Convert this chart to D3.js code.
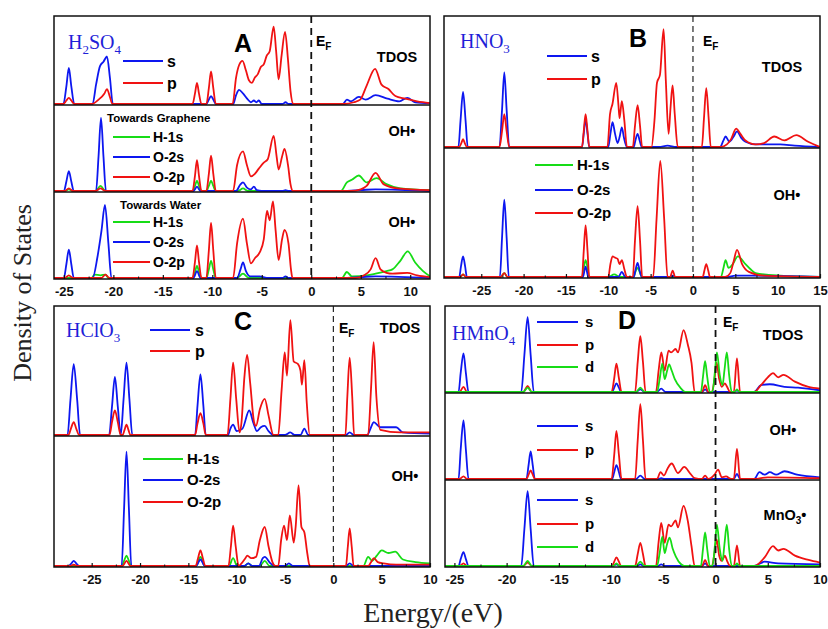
<!DOCTYPE html>
<html>
<head>
<meta charset="utf-8">
<script src="https://cdn.jsdelivr.net/npm/d3@7"></script>
<style>
body { margin: 0; background: #fff; }
</style>
</head>
<body>
<div id="chart"></div>
<script>
// ---- data: [energy eV, relative DOS in sub-panel] ----

// Panel A, H2SO4
var ticksA = [-25, -20, -15, -10, -5, 0, 5, 10];
var a1S = [[-26,0],[-25.05,0],[-24.75,.2],[-24.5,.41],[-24.25,.2],[-23.95,0],
  [-22.1,0],[-21.75,.22],[-21.35,.43],[-21.0,.48],[-20.65,.54],[-20.35,.3],[-20.05,0],
  [-10.6,0],[-10.35,.05],[-10.13,.09],[-9.9,.05],[-9.65,0],
  [-7.9,0],[-7.6,.1],[-7.3,.16],[-6.9,.12],[-6.4,.05],[-6.1,.02],[-5.8,.04],[-5.55,.02],[-5.3,.04],[-5.0,0],
  [-2.9,0],[-2.6,.02],[-2.3,0],
  [3.2,0],[3.6,.05],[4.0,.03],[4.8,.08],[5.5,.05],[6.5,.1],[7.7,.06],[8.9,.03],[9.7,.07],[10.5,.02],[12,.01]];
var a1P = [[-26,0],[-25.05,0],[-24.75,.04],[-24.5,.07],[-24.25,.04],[-23.95,0],
  [-22.2,0],[-21.5,.05],[-20.9,.12],[-20.65,.17],[-20.35,.08],[-20.1,0],
  [-12.0,0],[-11.75,.12],[-11.55,.24],[-11.35,.12],[-11.1,0],
  [-10.6,0],[-10.35,.18],[-10.13,.37],[-9.9,.18],[-9.65,0],
  [-7.95,0],[-7.6,.3],[-7.3,.44],[-6.95,.49],[-6.6,.38],[-6.3,.27],[-6.0,.24],[-5.7,.3],[-5.4,.34],[-5.1,.42],
  [-4.8,.45],[-4.5,.55],[-4.2,.6],[-3.8,.88],[-3.55,.6],[-3.3,.28],[-3.0,.55],[-2.65,.82],[-2.35,.5],[-2.1,.15],[-1.8,0],
  [3.3,0],[4.3,.02],[4.95,.05],[5.6,.21],[6.45,.4],[7.1,.22],[7.8,.17],[8.5,.09],[9.5,.06],[10.7,.03],[12,.01]];
var a2H = [[-26,0],[-24.9,0],[-24.5,.02],[-24.1,0],
  [-21.8,0],[-21.3,.06],[-20.8,0],
  [-12.0,0],[-11.75,.06],[-11.55,.12],[-11.35,.06],[-11.1,0],
  [-10.6,0],[-10.35,.06],[-10.13,.12],[-9.9,.06],[-9.65,0],
  [-7.4,0],[-6.9,.03],[-6.4,0],
  [3.0,0],[3.6,.1],[4.1,.13],[4.8,.18],[5.6,.1],[6.6,.15],[7.6,.08],[9,.03],[12,.01]];
var a2Os = [[-26,0],[-25.0,0],[-24.75,.11],[-24.5,.23],[-24.25,.11],[-24.0,0],
  [-21.75,0],[-21.5,.4],[-21.25,.85],[-21.0,.4],[-20.75,0],
  [-11.9,0],[-11.55,.05],[-11.2,0],
  [-7.6,0],[-7.2,.07],[-6.9,.1],[-6.5,.04],[-6.1,.02],[-5.8,.05],[-5.5,.01],[-5.0,0],
  [-2.9,0],[-2.6,.01],[-2.3,0],
  [3.0,0],[5,.01],[6.5,.02],[12,0]];
var a2Op = [[-26,0],[-24.9,0],[-24.5,.03],[-24.1,0],
  [-21.8,0],[-21.3,.03],[-20.8,0],
  [-12.0,0],[-11.75,.18],[-11.55,.36],[-11.35,.18],[-11.1,0],
  [-10.6,0],[-10.35,.2],[-10.13,.41],[-9.9,.2],[-9.65,0],
  [-7.9,0],[-7.5,.3],[-6.9,.46],[-6.5,.3],[-6.1,.17],[-5.7,.2],[-5.3,.26],[-4.8,.33],[-4.4,.37],[-3.8,.64],
  [-3.5,.4],[-3.3,.25],[-2.95,.4],[-2.7,.49],[-2.35,.3],[-2.1,.08],[-1.85,0],
  [4.0,0],[5.0,.02],[5.6,.06],[6.5,.21],[7.3,.08],[8.7,.03],[12,.01]];
var a3H = [[-26,0],[-22.2,0],[-21.9,.04],[-21.3,.03],[-20.8,.04],[-20.5,0],
  [-12.0,0],[-11.75,.07],[-11.55,.14],[-11.35,.07],[-11.1,0],
  [-10.6,0],[-10.35,.1],[-10.13,.2],[-9.9,.1],[-9.65,0],
  [-7.5,0],[-6.9,.05],[-6.3,0],
  [3.1,0],[3.6,.07],[4.1,.02],[5.6,.03],[6.5,.05],[7.6,.08],[8.2,.1],[9.0,.2],[9.75,.31],[10.5,.18],[11.3,.08],[12,.02]];
var a3Os = [[-26,0],[-25.0,0],[-24.75,.16],[-24.5,.33],[-24.25,.16],[-24.0,0],
  [-22.1,0],[-21.6,.25],[-21.2,.55],[-20.85,.85],[-20.5,.4],[-20.2,0],
  [-11.9,0],[-11.55,.08],[-11.2,0],
  [-7.5,0],[-7.15,.1],[-6.9,.18],[-6.6,.08],[-6.2,.02],[-5.2,.02],[-4.5,0],
  [-2.9,0],[-2.6,.02],[-2.3,0],
  [3.0,0],[5,.01],[6.5,.02],[12,0]];
var a3Op = [[-26,0],[-24.9,0],[-24.5,.03],[-24.1,0],
  [-21.2,0],[-20.8,.04],[-20.4,0],
  [-12.0,0],[-11.75,.19],[-11.55,.38],[-11.35,.19],[-11.1,0],
  [-10.6,0],[-10.35,.32],[-10.13,.64],[-9.9,.32],[-9.65,0],
  [-7.9,0],[-7.5,.4],[-6.9,.69],[-6.5,.4],[-6.1,.17],[-5.7,.23],[-5.2,.3],[-4.8,.45],[-4.47,.78],[-4.2,.67],
  [-3.87,.89],[-3.6,.55],[-3.3,.21],[-2.95,.45],[-2.7,.56],[-2.3,.4],[-2.05,.1],[-1.9,0],
  [4.5,0],[5.3,.03],[6.0,.1],[6.5,.23],[7.0,.1],[7.6,.06],[8.2,.05],[9.7,.06],[10.7,.03],[12,.01]];

// Panel B, HNO3
var ticksB = [-25, -20, -15, -10, -5, 0, 5, 10, 15];
var b1S = [[-29.4,0],[-27.7,0],[-27.45,.2],[-27.15,.42],[-26.85,.2],[-26.6,0],
  [-22.85,0],[-22.55,.28],[-22.28,.57],[-22.0,.28],[-21.7,0],
  [-13.1,0],[-12.9,.1],[-12.68,.21],[-12.45,.1],[-12.25,0],
  [-10.0,0],[-9.75,.1],[-9.5,.19],[-9.2,.1],[-8.9,.03],[-8.65,.08],[-8.4,.15],[-8.15,.07],[-7.8,0],
  [-7.0,0],[-6.8,.05],[-6.54,.1],[-6.3,.05],[-6.05,0],
  [-4.0,0],[-3.0,.01],[-2.0,0],
  [3.2,0],[3.6,.05],[3.85,.08],[4.3,.04],[4.8,.08],[5.2,.12],[5.7,.07],[6.2,.04],[7.4,.02],[10.3,.02],[12,.01],[15,0]];
var b1P = [[-29.4,0],[-27.6,0],[-27.35,.03],[-27.15,.06],[-26.95,.03],[-26.7,0],
  [-22.85,0],[-22.55,.12],[-22.28,.25],[-22.0,.12],[-21.7,0],
  [-13.1,0],[-12.9,.12],[-12.68,.25],[-12.45,.12],[-12.25,0],
  [-10.1,0],[-9.8,.25],[-9.5,.33],[-9.06,.49],[-8.8,.32],[-8.67,.22],[-8.4,.35],[-8.1,.2],[-7.8,0],
  [-7.1,0],[-6.85,.16],[-6.54,.32],[-6.25,.16],[-6.0,0],
  [-4.9,0],[-4.55,.2],[-4.25,.49],[-3.9,.55],[-3.47,.9],[-3.2,.5],[-2.88,.1],[-2.65,.3],[-2.41,.47],[-2.15,.25],[-1.8,0],
  [1.05,0],[1.3,.22],[1.57,.45],[1.85,.22],[2.1,0],
  [3.3,0],[4.0,.02],[4.5,.06],[5.1,.14],[5.6,.1],[6.2,.05],[7.4,.02],[8.4,.03],[9.6,.08],[10.8,.05],[12.2,.09],[13.6,.04],[15,0]];
var b2H = [[-29.4,0],[-27.5,0],[-27.15,.02],[-26.8,0],
  [-22.7,0],[-22.28,.03],[-21.9,0],
  [-13.1,0],[-12.9,.07],[-12.68,.13],[-12.45,.07],[-12.25,0],
  [-10,0],[-9.3,.02],[-8.6,0],
  [-7.0,0],[-6.8,.04],[-6.54,.07],[-6.3,.04],[-6.05,0],
  [3.3,0],[3.6,.07],[3.85,.13],[4.2,.07],[4.7,.1],[5.3,.16],[6.2,.1],[6.8,.06],[7.4,.03],[10.3,.01],[15,0]];
var b2Os = [[-29.4,0],[-27.6,0],[-27.4,.08],[-27.15,.16],[-26.9,.08],[-26.7,0],
  [-22.8,0],[-22.55,.3],[-22.28,.6],[-22.0,.3],[-21.75,0],
  [-13.0,0],[-12.68,.08],[-12.35,0],
  [-8.8,0],[-8.4,.04],[-8.0,0],
  [-7.0,0],[-6.8,.05],[-6.54,.11],[-6.3,.05],[-6.05,0],
  [-2.7,0],[-2.4,.01],[-2.1,0],
  [4,0],[5,.01],[7,.01],[15,0]];
var b2Op = [[-29.4,0],[-27.5,0],[-27.15,.02],[-26.8,0],
  [-22.7,0],[-22.28,.03],[-21.9,0],
  [-13.1,0],[-12.9,.2],[-12.68,.4],[-12.45,.2],[-12.25,0],
  [-10.0,0],[-9.75,.1],[-9.5,.16],[-9.2,.15],[-8.9,.14],[-8.67,.1],[-8.4,.13],[-8.1,.06],[-7.8,0],
  [-7.1,0],[-6.85,.28],[-6.54,.55],[-6.25,.28],[-6.0,0],
  [-4.7,0],[-4.3,.45],[-3.86,.9],[-3.4,.45],[-3.0,0],
  [-2.7,0],[-2.4,.05],[-2.1,0],
  [1.15,0],[1.35,.05],[1.57,.1],[1.8,.05],[2.0,0],
  [3.8,0],[4.4,.03],[4.8,.12],[5.2,.21],[5.8,.1],[6.6,.04],[8.4,.01],[15,0]];

// Panel C, HClO3
var ticksC = [-25, -20, -15, -10, -5, 0, 5, 10];
var c1S = [[-28.9,0],[-27.5,0],[-27.2,.27],[-26.86,.55],[-26.5,.27],[-26.2,0],
  [-23.2,0],[-22.9,.22],[-22.6,.45],[-22.3,.22],[-22.0,0],
  [-21.7,.28],[-21.4,.56],[-21.1,.28],[-20.8,0],
  [-14.3,0],[-14.05,.23],[-13.75,.47],[-13.45,.23],[-13.2,0],
  [-10.9,0],[-10.65,.05],[-10.37,.08],[-10.0,.03],[-9.4,.05],[-8.7,.19],[-8.3,.1],[-7.9,.03],[-7.5,.06],[-7.1,.07],[-6.7,.03],[-6.2,0],
  [-5.0,0],[-4.45,.02],[-4.0,0],[-3.4,0],[-3.0,.05],[-2.6,0],
  [1.3,0],[1.69,.02],[2.1,0],
  [3.5,0],[3.9,.06],[4.17,.1],[4.86,.06],[5.5,.06],[6.5,.06],[7.2,.02],[10,.01]];
var c1P = [[-28.9,0],[-27.4,0],[-27.15,.05],[-26.86,.1],[-26.6,.05],[-26.3,0],
  [-23.15,0],[-22.9,.1],[-22.6,.19],[-22.3,.1],[-22.0,0],
  [-21.8,0],[-21.6,.04],[-21.4,.08],[-21.2,.04],[-21.0,0],
  [-14.3,0],[-14.05,.09],[-13.75,.17],[-13.45,.09],[-13.2,0],
  [-10.95,0],[-10.65,.28],[-10.37,.56],[-10.05,.28],[-9.7,.02],[-9.5,.1],[-9.2,.45],[-8.92,.62],[-8.6,.4],[-8.2,.1],
  [-8.0,.07],[-7.6,.2],[-7.1,.28],[-6.7,.15],[-6.2,0],
  [-5.7,0],[-5.35,.35],[-5.03,.64],[-4.8,.46],[-4.45,.89],[-4.1,.57],[-3.65,.55],[-3.4,.5],[-3.25,.39],[-3.0,.58],[-2.75,.25],[-2.44,0],
  [1.25,0],[1.45,.3],[1.69,.6],[1.95,.3],[2.15,0],
  [3.6,0],[3.9,.36],[4.17,.72],[4.45,.3],[4.86,.04],[6.9,.02],[10,.02]];
var c2H = [[-28.9,0],[-21.9,0],[-21.65,.04],[-21.4,.08],[-21.15,.04],[-20.9,0],
  [-14.2,0],[-13.75,.07],[-13.3,0],
  [-10.8,0],[-10.37,.06],[-9.95,0],
  [-9.2,0],[-8.8,.02],[-8.4,0],
  [-7.6,0],[-7.1,.04],[-6.6,0],
  [3.1,0],[3.6,.07],[4.0,.04],[4.5,.08],[5.0,.12],[5.7,.1],[6.4,.11],[7.2,.05],[8.5,.03],[10,.02]];
var c2Os = [[-28.9,0],[-27.4,0],[-27.1,.02],[-26.86,.04],[-26.6,.02],[-26.3,0],
  [-21.9,0],[-21.65,.44],[-21.4,.88],[-21.15,.44],[-20.9,0],
  [-14.2,0],[-13.75,.05],[-13.3,0],
  [-9.2,0],[-8.8,.02],[-8.4,0],
  [-7.7,0],[-7.3,.06],[-7.1,.07],[-6.5,.02],[-6.1,0],
  [-5.0,0],[-4.6,.02],[-4.2,0],
  [1.3,0],[1.69,.02],[2.1,0],[10,0]];
var c2Op = [[-28.9,0],[-27.2,0],[-26.86,.01],[-26.5,0],
  [-21.8,0],[-21.4,.04],[-21.0,0],
  [-14.25,0],[-14.0,.06],[-13.75,.12],[-13.5,.06],[-13.25,0],
  [-10.85,0],[-10.6,.15],[-10.37,.31],[-10.1,.15],[-9.8,0],
  [-9.5,.02],[-9.1,.06],[-8.9,.08],[-8.5,.06],[-8.0,.07],[-7.6,.2],[-7.1,.3],[-6.7,.15],[-6.3,.03],[-6.0,0],
  [-5.7,0],[-5.4,.2],[-5.1,.31],[-4.8,.2],[-4.5,.39],[-4.1,.18],[-3.9,.3],[-3.6,.62],[-3.3,.3],[-3.0,.26],[-2.7,.1],[-2.44,0],
  [1.3,0],[1.5,.15],[1.69,.29],[1.9,.15],[2.1,0],
  [3.6,0],[3.9,.03],[4.2,.06],[4.6,.03],[5.2,.02],[6.5,.01],[10,.01]];

// Panel D, HMnO4
var ticksD = [-25, -20, -15, -10, -5, 0, 5, 10];
var d1S = [[-25.9,0],[-24.6,0],[-24.4,.22],[-24.13,.45],[-23.9,.22],[-23.65,0],
  [-18.6,0],[-18.3,.43],[-17.99,.87],[-17.7,.43],[-17.4,0],
  [-9.9,0],[-9.7,.05],[-9.49,.1],[-9.25,.05],[-9.05,0],
  [-7.6,0],[-7.2,.03],[-6.8,0],
  [-5.6,0],[-5.2,.04],[-4.8,0],
  [-1.3,0],[-1.0,.03],[-0.7,0],
  [1.8,0],[2.05,.02],[2.3,0],
  [3.7,0],[4.35,.08],[5.2,.09],[6.6,.06],[7.9,.05],[10,.02]];
var d1P = [[-25.9,0],[-24.5,0],[-24.13,.06],[-23.8,0],
  [-18.4,0],[-17.99,.07],[-17.6,0],
  [-9.95,0],[-9.7,.16],[-9.49,.33],[-9.25,.16],[-9.0,0],
  [-7.7,0],[-7.45,.35],[-7.2,.65],[-6.95,.35],[-6.7,0],
  [-5.7,0],[-5.45,.25],[-5.19,.46],[-4.87,.25],[-4.5,.48],[-4.25,.46],[-3.83,.5],[-3.6,.46],[-3.06,.72],[-2.65,.55],[-2.3,.34],[-2.0,0],
  [-1.3,0],[-1.0,.08],[-0.7,0],
  [-0.35,0],[-0.1,.15],[0.1,.34],[0.35,.15],[0.6,.06],[0.9,.1],[1.1,.06],[1.4,0],
  [1.75,0],[2.05,.39],[2.35,0],
  [3.7,0],[4.35,.08],[5.0,.17],[5.5,.22],[6.0,.17],[6.5,.2],[7.6,.12],[8.9,.06],[10,.04]];
var d1D = [[-25.9,0],[-18.4,0],[-17.99,.05],[-17.6,0],
  [-7.6,0],[-7.2,.05],[-6.8,0],
  [-5.6,0],[-5.35,.15],[-5.1,.33],[-4.87,.15],[-4.65,.24],[-4.45,.32],[-4.2,.25],[-3.9,.15],[-3.3,.04],[-2.9,0],
  [-1.4,0],[-1.2,.18],[-1.0,.36],[-0.8,.18],[-0.55,0],
  [-0.3,0],[-0.05,.25],[0.13,.46],[0.4,.2],[0.67,.08],[0.85,.25],[1.08,.46],[1.3,.2],[1.55,0],
  [1.8,0],[2.05,.03],[2.3,0],[10,0]];
var d2S = [[-25.9,0],[-24.6,0],[-24.4,.34],[-24.13,.68],[-23.9,.34],[-23.65,0],
  [-18.1,0],[-17.9,.16],[-17.7,.32],[-17.5,.16],[-17.3,0],
  [-9.9,0],[-9.7,.08],[-9.49,.16],[-9.25,.08],[-9.05,0],
  [-7.6,0],[-7.2,.04],[-6.8,0],
  [-5.5,0],[-5.2,.01],[-4.9,0],
  [1.75,0],[2.05,.06],[2.35,0],
  [3.7,0],[4.2,.08],[4.7,.05],[5.2,.08],[5.8,.05],[6.6,.09],[7.8,.05],[10,.02]];
var d2P = [[-25.9,0],[-24.5,0],[-24.13,.03],[-23.8,0],
  [-18.1,0],[-17.9,.05],[-17.7,.1],[-17.5,.05],[-17.3,0],
  [-9.95,0],[-9.7,.28],[-9.49,.56],[-9.25,.28],[-9.0,0],
  [-7.7,0],[-7.45,.45],[-7.2,.87],[-6.95,.45],[-6.7,0],
  [-5.6,0],[-5.27,.08],[-4.95,.04],[-4.6,.12],[-4.2,.18],[-3.6,.07],[-3.0,.14],[-2.4,.06],[-2.0,.01],
  [-1.3,0],[-1.0,.04],[-0.7,0],[-0.1,.05],[0.24,.11],[0.6,.02],[1.0,.03],[1.5,0],
  [1.75,0],[2.05,.35],[2.35,0],
  [3.7,0],[5,.02],[10,.01]];
var d3S = [[-25.9,0],[-24.6,0],[-24.4,.08],[-24.13,.16],[-23.9,.08],[-23.65,0],
  [-18.6,0],[-18.3,.43],[-17.99,.87],[-17.7,.43],[-17.4,0],
  [-9.8,0],[-9.49,.02],[-9.2,0],
  [-7.5,0],[-7.2,.02],[-6.9,0],
  [-5.5,0],[-5.2,.02],[-4.9,0],
  [-1.3,0],[-1.0,.03],[-0.7,0],
  [3.7,0],[4.7,.05],[6,.03],[10,.02]];
var d3P = [[-25.9,0],[-24.5,0],[-24.13,.03],[-23.8,0],
  [-18.4,0],[-17.99,.04],[-17.6,0],
  [-9.9,0],[-9.7,.05],[-9.49,.1],[-9.25,.05],[-9.05,0],
  [-7.7,0],[-7.45,.14],[-7.2,.27],[-6.95,.14],[-6.7,0],
  [-5.7,0],[-5.45,.28],[-5.2,.5],[-4.87,.27],[-4.5,.48],[-4.25,.46],[-3.83,.53],[-3.6,.45],[-3.06,.7],[-2.65,.52],[-2.3,.23],[-2.0,0],
  [-1.3,0],[-1.0,.07],[-0.7,0],[-0.35,0],[-0.1,.15],[0.1,.31],[0.35,.12],[0.6,.06],[0.9,.12],[1.1,.06],[1.4,0],
  [1.75,0],[2.05,.24],[2.35,0],
  [3.7,0],[4.7,.1],[5.5,.23],[6.0,.18],[6.5,.2],[7.6,.12],[8.9,.07],[10,.04]];
var d3D = [[-25.9,0],[-18.4,0],[-17.99,.06],[-17.6,0],
  [-9.8,0],[-9.49,.03],[-9.2,0],
  [-7.6,0],[-7.2,.05],[-6.8,0],
  [-5.6,0],[-5.35,.15],[-5.1,.34],[-4.87,.15],[-4.65,.25],[-4.4,.33],[-4.1,.2],[-3.8,.11],[-3.3,.02],[-3.0,0],
  [-1.4,0],[-1.2,.2],[-1.0,.39],[-0.8,.2],[-0.55,0],
  [-0.3,0],[-0.05,.25],[0.13,.48],[0.4,.2],[0.67,.06],[0.85,.25],[1.08,.48],[1.3,.2],[1.55,0],
  [1.8,0],[2.05,.03],[2.3,0],[10,0]];

// ---- drawing ----
var BLUE = '#0d17f0', RED = '#f01212', GREEN = '#16dc16', FORMULA = '#1f1fd8';
var SANS = '"Liberation Sans", Arial, sans-serif';
var SERIF = '"Liberation Serif", "Times New Roman", serif';
var width = 828, height = 629;

var svg = d3.select('#chart').append('svg')
    .attr('width', width)
    .attr('height', height)
    .attr('font-family', SANS);

var panels = [
    {id: 'A', domain: [-26, 12], left: 54, right: 430, top: 16, bottom: 279, ticks: ticksA,
     formula: [['H', 0], ['2', 1], ['SO', 0], ['4', 1]], fx: 68, fy: 49,
     letter: [243, 52], ef: [316, 46],
     subs: [
        {top: 16, bottom: 105, curves: [[a1S, BLUE], [a1P, RED]],
         legend: {x1: 123, x2: 163, tx: 167, size: 16, items: [['s', BLUE, 61], ['p', RED, 83]]},
         tag: ['TDOS', 397, 62]},
        {top: 105, bottom: 192, curves: [[a2H, GREEN], [a2Os, BLUE], [a2Op, RED]],
         note: ['Towards Graphene', 107, 122],
         legend: {x1: 113, x2: 150, tx: 153, size: 14, items: [['H-1s', GREEN, 137], ['O-2s', BLUE, 157], ['O-2p', RED, 177]]},
         tag: ['OH•', 402, 136]},
        {top: 192, bottom: 279, curves: [[a3H, GREEN], [a3Os, BLUE], [a3Op, RED]],
         note: ['Towards Water', 120, 209],
         legend: {x1: 113, x2: 150, tx: 153, size: 14, items: [['H-1s', GREEN, 222], ['O-2s', BLUE, 242], ['O-2p', RED, 262]]},
         tag: ['OH•', 402, 227]}
     ]},
    {id: 'B', domain: [-29.4, 15], left: 444, right: 820, top: 16, bottom: 278, ticks: ticksB,
     formula: [['HNO', 0], ['3', 1]], fx: 460, fy: 48,
     letter: [638, 47], ef: [703, 46],
     subs: [
        {top: 16, bottom: 148, curves: [[b1S, BLUE], [b1P, RED]],
         legend: {x1: 547, x2: 587, tx: 591, size: 16, items: [['s', BLUE, 56], ['p', RED, 79]]},
         tag: ['TDOS', 782, 72]},
        {top: 148, bottom: 278, curves: [[b2H, GREEN], [b2Os, BLUE], [b2Op, RED]],
         legend: {x1: 535, x2: 573, tx: 577, size: 15, items: [['H-1s', GREEN, 165], ['O-2s', BLUE, 190], ['O-2p', RED, 213]]},
         tag: ['OH•', 787, 200]}
     ]},
    {id: 'C', domain: [-28.9, 10], left: 54, right: 430, top: 306, bottom: 567, ticks: ticksC,
     formula: [['HClO', 0], ['3', 1]], fx: 66, fy: 337,
     letter: [243, 330], ef: [339, 333],
     subs: [
        {top: 306, bottom: 436, curves: [[c1S, BLUE], [c1P, RED]],
         legend: {x1: 150, x2: 190, tx: 195, size: 16, items: [['s', BLUE, 330], ['p', RED, 351]]},
         tag: ['TDOS', 400, 333]},
        {top: 436, bottom: 567, curves: [[c2H, GREEN], [c2Os, BLUE], [c2Op, RED]],
         legend: {x1: 143, x2: 183, tx: 187, size: 15, items: [['H-1s', GREEN, 459], ['O-2s', BLUE, 480], ['O-2p', RED, 502]]},
         tag: ['OH•', 405, 481]}
     ]},
    {id: 'D', domain: [-25.9, 10], left: 445, right: 820, top: 306, bottom: 567, ticks: ticksD,
     formula: [['HMnO', 0], ['4', 1]], fx: 452, fy: 340,
     letter: [627, 329], ef: [723, 327],
     subs: [
        {top: 306, bottom: 393, curves: [[d1S, BLUE], [d1P, RED], [d1D, GREEN]],
         legend: {x1: 537, x2: 578, tx: 585, size: 15, items: [['s', BLUE, 322], ['p', RED, 345], ['d', GREEN, 367]]},
         tag: ['TDOS', 783, 340]},
        {top: 393, bottom: 480, curves: [[d2S, BLUE], [d2P, RED]],
         legend: {x1: 537, x2: 578, tx: 585, size: 15, items: [['s', BLUE, 426], ['p', RED, 450]]},
         tag: ['OH•', 783, 435]},
        {top: 480, bottom: 567, curves: [[d3S, BLUE], [d3P, RED], [d3D, GREEN]],
         legend: {x1: 537, x2: 578, tx: 585, size: 15, items: [['s', BLUE, 500], ['p', RED, 524], ['d', GREEN, 547]]},
         tag: ['MnO3•', 785, 520]}
     ]}
];

function drawPanel(p) {
    var x = d3.scaleLinear().domain(p.domain).range([p.left, p.right]);
    var g = svg.append('g').attr('class', 'panel-' + p.id);

    g.append('clipPath').attr('id', 'clip-' + p.id)
        .append('rect')
        .attr('x', p.left).attr('y', p.top)
        .attr('width', p.right - p.left).attr('height', p.bottom - p.top);

    var plot = g.append('g').attr('clip-path', 'url(#clip-' + p.id + ')');

    p.subs.forEach(function (s) {
        var y = d3.scaleLinear().domain([0, 1]).range([s.bottom - 1, s.top]);
        var line = d3.line()
            .x(function (d) { return x(d[0]); })
            .y(function (d) { return y(d[1]); })
            .curve(d3.curveMonotoneX);
        s.curves.forEach(function (c) {
            plot.append('path')
                .attr('d', line(c[0]))
                .attr('fill', 'none')
                .attr('stroke', c[1])
                .attr('stroke-width', 1.8)
                .attr('stroke-linejoin', 'round');
        });

        // legend
        var lg = s.legend;
        lg.items.forEach(function (it) {
            g.append('line')
                .attr('x1', lg.x1).attr('x2', lg.x2)
                .attr('y1', it[2]).attr('y2', it[2])
                .attr('stroke', it[1]).attr('stroke-width', 2);
            g.append('text')
                .attr('x', lg.tx).attr('y', it[2])
                .attr('dy', '0.36em')
                .attr('font-size', lg.size).attr('font-weight', 'bold')
                .text(it[0]);
        });
        if (s.note) {
            g.append('text')
                .attr('x', s.note[1]).attr('y', s.note[2])
                .attr('font-size', 11.5).attr('font-weight', 'bold')
                .text(s.note[0]);
        }
        // tag on the right (TDOS / OH• / MnO3•)
        var t = g.append('text')
            .attr('x', s.tag[1]).attr('y', s.tag[2])
            .attr('text-anchor', 'middle')
            .attr('font-size', 14.5).attr('font-weight', 'bold');
        if (s.tag[0] === 'MnO3•') {
            t.append('tspan').text('MnO');
            t.append('tspan').attr('font-size', 10).attr('dy', 4).text('3');
            t.append('tspan').attr('dy', -4).text('•');
        } else {
            t.text(s.tag[0]);
        }
    });

    // sub-panel dividers
    p.subs.slice(1).forEach(function (s) {
        g.append('line')
            .attr('x1', p.left).attr('x2', p.right)
            .attr('y1', s.top).attr('y2', s.top)
            .attr('stroke', '#111').attr('stroke-width', 1.3);
    });

    // Fermi level
    var thick = (p.id === 'A' || p.id === 'D');
    g.append('line')
        .attr('x1', x(0)).attr('x2', x(0))
        .attr('y1', p.top).attr('y2', p.bottom)
        .attr('stroke', '#111')
        .attr('stroke-width', thick ? 1.8 : 1.1)
        .attr('stroke-dasharray', thick ? '7,5' : '6,4');

    // frame
    g.append('rect')
        .attr('x', p.left).attr('y', p.top)
        .attr('width', p.right - p.left).attr('height', p.bottom - p.top)
        .attr('fill', 'none').attr('stroke', '#111').attr('stroke-width', 1.5);

    // axes
    var minor = [];
    p.ticks.forEach(function (v) { minor.push(v - 2.5); });
    minor.push(p.ticks[p.ticks.length - 1] + 2.5);
    minor = minor.filter(function (v) { return v > p.domain[0] && v < p.domain[1]; });

    var axis = g.append('g')
        .attr('transform', 'translate(0,' + p.bottom + ')')
        .call(d3.axisBottom(x).tickValues(p.ticks)
            .tickSizeInner(-4).tickSizeOuter(0).tickPadding(8)
            .tickFormat(function (d) { return String(d); }));
    axis.select('.domain').remove();
    axis.selectAll('text').attr('font-size', 13).attr('font-weight', 'bold')
        .attr('font-family', SANS).attr('fill', '#111');
    axis.selectAll('line').attr('stroke', '#111').attr('stroke-width', 1.2);

    var axisMinor = g.append('g')
        .attr('transform', 'translate(0,' + p.bottom + ')')
        .call(d3.axisBottom(x).tickValues(minor).tickSizeInner(-2.5).tickSizeOuter(0).tickFormat(''));
    axisMinor.select('.domain').remove();
    axisMinor.selectAll('line').attr('stroke', '#111');

    // formula
    var f = g.append('text')
        .attr('x', p.fx).attr('y', p.fy)
        .attr('font-family', SERIF)
        .attr('font-size', 20).attr('fill', FORMULA);
    var low = false;
    p.formula.forEach(function (part) {
        var sp = f.append('tspan').text(part[0]);
        if (part[1] && !low) { sp.attr('font-size', 13).attr('dy', 5); low = true; }
        else if (!part[1] && low) { sp.attr('dy', -5); low = false; }
    });

    // panel letter
    g.append('text')
        .attr('x', p.letter[0]).attr('y', p.letter[1])
        .attr('text-anchor', 'middle')
        .attr('font-size', 25).attr('font-weight', 'bold')
        .text(p.id);

    // E_F label
    var ef = g.append('text')
        .attr('x', p.ef[0]).attr('y', p.ef[1])
        .attr('font-size', 14).attr('font-weight', 'bold');
    ef.append('tspan').text('E');
    ef.append('tspan').attr('font-size', 10).attr('dy', 4).text('F');
}

panels.forEach(drawPanel);

// global axis titles
svg.append('text')
    .attr('transform', 'translate(31,293) rotate(-90)')
    .attr('text-anchor', 'middle')
    .attr('font-family', SERIF)
    .attr('font-size', 26)
    .attr('fill', '#222')
    .text('Density of States');

svg.append('text')
    .attr('x', 433).attr('y', 622)
    .attr('text-anchor', 'middle')
    .attr('font-family', SERIF)
    .attr('font-size', 28)
    .attr('fill', '#222')
    .text('Energy/(eV)');
</script>
</body>
</html>
